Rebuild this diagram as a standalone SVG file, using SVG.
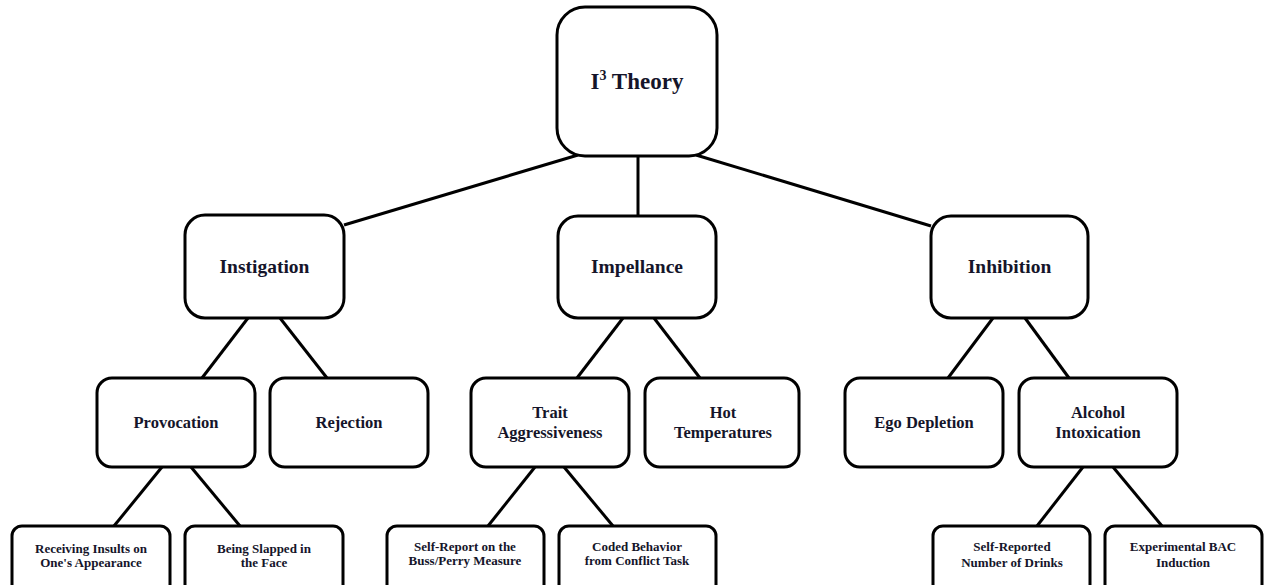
<svg xmlns="http://www.w3.org/2000/svg" width="1264" height="585" viewBox="0 0 1264 585">
<style>
.box{fill:#fff;stroke:#000;stroke-width:3}
.edge{stroke:#000;stroke-width:3;fill:none}
text{font-family:"Liberation Serif","Times New Roman",serif;font-weight:bold;fill:#15152a;text-anchor:middle}
.t1{font-size:23px}
.t2{font-size:19.5px}
.t3{font-size:16.5px}
.t4{font-size:13px}
</style>
<rect width="1264" height="585" fill="#fff"/>
<g id="connectors">
<line class="edge" x1="578" y1="155" x2="344" y2="225"/>
<line class="edge" x1="638" y1="156" x2="638" y2="216"/>
<line class="edge" x1="696" y1="155" x2="931" y2="226"/>
<line class="edge" x1="248" y1="318" x2="202" y2="378"/>
<line class="edge" x1="280" y1="318" x2="327" y2="378"/>
<line class="edge" x1="623" y1="318" x2="577" y2="378"/>
<line class="edge" x1="654" y1="318" x2="700" y2="378"/>
<line class="edge" x1="993" y1="318" x2="948" y2="378"/>
<line class="edge" x1="1025" y1="318" x2="1069" y2="378"/>
<line class="edge" x1="162" y1="467" x2="114" y2="526"/>
<line class="edge" x1="191" y1="467" x2="240" y2="526"/>
<line class="edge" x1="535" y1="467" x2="488" y2="526"/>
<line class="edge" x1="564" y1="467" x2="613" y2="526"/>
<line class="edge" x1="1083" y1="467" x2="1037" y2="526"/>
<line class="edge" x1="1113" y1="467" x2="1162" y2="526"/>
</g>
<g id="i3theory">
<rect class="box" x="557" y="7" width="160" height="149" rx="28"/>
<text class="t1" x="637" y="89">I<tspan font-size="14" dy="-9">3</tspan><tspan dy="9"> Theory</tspan></text>
</g>
<g id="instigation">
<rect class="box" x="185" y="215" width="159" height="103" rx="20"/>
<text class="t2" x="264.5" y="273">Instigation</text>
</g>
<g id="impellance">
<rect class="box" x="558" y="216" width="158" height="102" rx="20"/>
<text class="t2" x="637" y="273">Impellance</text>
</g>
<g id="inhibition">
<rect class="box" x="931" y="216" width="157" height="102" rx="20"/>
<text class="t2" x="1009.5" y="273">Inhibition</text>
</g>
<g id="provocation">
<rect class="box" x="97" y="378" width="158" height="89" rx="15"/>
<text class="t3" x="176" y="428">Provocation</text>
</g>
<g id="rejection">
<rect class="box" x="270" y="378" width="158" height="89" rx="15"/>
<text class="t3" x="349" y="428">Rejection</text>
</g>
<g id="trait">
<rect class="box" x="471" y="378" width="158" height="89" rx="15"/>
<text class="t3" x="550" y="418">Trait</text>
<text class="t3" x="550" y="438">Aggressiveness</text>
</g>
<g id="hot">
<rect class="box" x="645" y="378" width="154" height="89" rx="15"/>
<text class="t3" x="723" y="418">Hot</text>
<text class="t3" x="723" y="438">Temperatures</text>
</g>
<g id="ego">
<rect class="box" x="845" y="378" width="158" height="89" rx="15"/>
<text class="t3" x="924" y="428">Ego Depletion</text>
</g>
<g id="alcohol">
<rect class="box" x="1019" y="378" width="158" height="89" rx="15"/>
<text class="t3" x="1098" y="418">Alcohol</text>
<text class="t3" x="1098" y="438">Intoxication</text>
</g>
<g id="insults">
<rect class="box" x="12" y="526" width="158" height="70" rx="10"/>
<text class="t4" x="91" y="553">Receiving Insults on</text>
<text class="t4" x="91" y="567">One's Appearance</text>
</g>
<g id="slapped">
<rect class="box" x="185" y="526" width="158" height="70" rx="10"/>
<text class="t4" x="264" y="553">Being Slapped in</text>
<text class="t4" x="264" y="567">the Face</text>
</g>
<g id="selfreport">
<rect class="box" x="387" y="526" width="157" height="70" rx="10"/>
<text class="t4" x="465" y="551">Self-Report on the</text>
<text class="t4" x="465" y="565">Buss/Perry Measure</text>
</g>
<g id="coded">
<rect class="box" x="559" y="526" width="157" height="70" rx="10"/>
<text class="t4" x="637" y="551">Coded Behavior</text>
<text class="t4" x="637" y="565">from Conflict Task</text>
</g>
<g id="drinks">
<rect class="box" x="933" y="526" width="157" height="70" rx="10"/>
<text class="t4" x="1012" y="551">Self-Reported</text>
<text class="t4" x="1012" y="567">Number of Drinks</text>
</g>
<g id="bac">
<rect class="box" x="1105" y="526" width="157" height="70" rx="10"/>
<text class="t4" x="1183" y="551">Experimental BAC</text>
<text class="t4" x="1183" y="567">Induction</text>
</g>
</svg>
